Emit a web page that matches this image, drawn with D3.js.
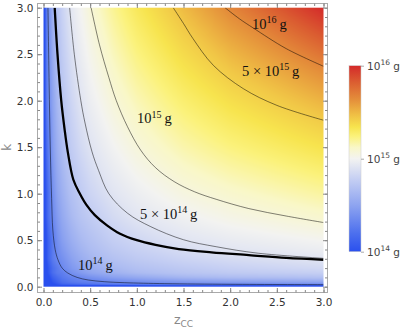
<!DOCTYPE html>
<html>
<head>
<meta charset="utf-8">
<script src="https://cdn.jsdelivr.net/npm/d3@7"></script>
<style>
  body { margin: 0; background: #fff; }
  svg { display: block; }
</style>
</head>
<body>
<svg width="400" height="330"></svg>
<script>
// grid of log10(M / 1e14 g) (rows: k, columns: z_CC)
const zGrid = [0, 0.025, 0.05, 0.1, 0.15, 0.2, 0.3, 0.4, 0.5, 0.75, 1, 1.5, 2, 3];
const kGrid = [0, 0.025, 0.05, 0.1, 0.15, 0.2, 0.3, 0.4, 0.5, 0.75, 1, 1.5, 2, 3];
const logMass = [
    [-1, -1, -1, -1, -1, -1, -1, -1, -1, -1, -1, -1, -1, -1],
    [-1, -0.9, -0.7, -0.5, -0.4, -0.3, -0.25, -0.2, -0.17, -0.1, -0.07, -0.03, -0.02, 0.0],
    [-1, -0.8, -0.6, -0.4, -0.3, -0.2, -0.12, -0.08, -0.06, 0.0, 0.04, 0.1, 0.14, 0.19],
    [-1, -0.7, -0.5, -0.3, -0.2, -0.12, -0.04, 0.01, 0.06, 0.15, 0.21, 0.3, 0.35, 0.39],
    [-1, -0.6, -0.4, -0.2, -0.1, -0.08, 0.05, 0.12, 0.18, 0.27, 0.34, 0.42, 0.47, 0.52],
    [-1, -0.6, -0.4, -0.2, -0.1, 0.0, 0.10, 0.17, 0.23, 0.32, 0.39, 0.47, 0.53, 0.60],
    [-1, -0.5, -0.3, -0.1, 0.0, 0.05, 0.16, 0.24, 0.30, 0.40, 0.47, 0.56, 0.62, 0.70],
    [-1, -0.5, -0.3, -0.1, 0.02, 0.10, 0.21, 0.29, 0.35, 0.46, 0.53, 0.63, 0.70, 0.79],
    [-1, -0.5, -0.3, -0.1, 0.05, 0.14, 0.25, 0.33, 0.39, 0.51, 0.58, 0.69, 0.76, 0.86],
    [-1, -0.4, -0.2, 0.0, 0.12, 0.21, 0.33, 0.42, 0.48, 0.61, 0.70, 0.82, 0.91, 1.04],
    [-1, -0.4, -0.2, 0.05, 0.18, 0.26, 0.39, 0.48, 0.56, 0.69, 0.79, 0.94, 1.04, 1.20],
    [-1, -0.3, -0.1, 0.13, 0.26, 0.35, 0.49, 0.60, 0.68, 0.84, 0.97, 1.16, 1.30, 1.51],
    [-1, -0.2, 0.0, 0.18, 0.32, 0.42, 0.57, 0.69, 0.79, 0.98, 1.13, 1.36, 1.54, 1.81],
    [-1, -0.2, 0.03, 0.27, 0.42, 0.54, 0.72, 0.86, 0.99, 1.24, 1.45, 1.77, 2.03, 2.42]
];

// contour lines [z, k]
const contour1e14 = [[0.048, 3], [0.06, 2.2], [0.073, 1.47], [0.087, 0.95], [0.10, 0.61], [0.125, 0.4], [0.155, 0.29], [0.2, 0.2], [0.26, 0.147], [0.36, 0.1], [0.48, 0.072], [0.65, 0.054], [0.87, 0.043], [1.3, 0.033], [2, 0.026], [3, 0.022]];
const contour5e14 = [[0.28, 3], [0.33, 2.5], [0.4, 2.0], [0.445, 1.76], [0.52, 1.45], [0.59, 1.25], [0.7, 1.0], [0.9, 0.79], [1.15, 0.645], [1.5, 0.505], [1.85, 0.43], [2.3, 0.36], [3, 0.305]];
const contour1e15 = [[0.51, 3], [0.6, 2.6], [0.7, 2.25], [0.78, 2.0], [0.9, 1.72], [1.04, 1.47], [1.2, 1.28], [1.4, 1.13], [1.62, 1.02], [1.85, 0.94], [2.2, 0.84], [2.6, 0.76], [3, 0.69]];
const contour5e15 = [[1.39, 3], [1.5, 2.83], [1.6, 2.67], [1.82, 2.38], [2.14, 2.13], [2.5, 1.95], [3, 1.79]];
const contour1e16 = [[1.945, 3], [2.1, 2.88], [2.25, 2.78], [2.6, 2.56], [3, 2.37]];
const boundary = [[0.12, 3], [0.15, 2.5], [0.19, 2.0], [0.225, 1.7], [0.26, 1.45], [0.32, 1.15], [0.39, 1.0], [0.46, 0.88], [0.55, 0.77], [0.68, 0.66], [0.82, 0.57], [1.0, 0.5], [1.2, 0.45], [1.45, 0.405], [1.8, 0.37], [2.2, 0.34], [2.6, 0.31], [3, 0.29]];

const contourLabels = [
    { pre: "", exp: "16", z: 2.234, k: 2.771 },
    { pre: "5 \u00d7 ", exp: "15", z: 2.127, k: 2.266 },
    { pre: "", exp: "15", z: 1.002, k: 1.760 },
    { pre: "5 \u00d7 ", exp: "14", z: 1.034, k: 0.728 },
    { pre: "", exp: "14", z: 0.370, k: 0.180 }
];

const xTicks = [0, 0.5, 1, 1.5, 2, 2.5, 3];
const yTicks = [0, 0.5, 1, 1.5, 2, 2.5, 3];
const legendTicks = [0, 1, 2]; // log10(M / 1e14 g)
const legendExp = ["14", "15", "16"];

// colour ramp, 0 = bottom of the bar, 1 = top
const rampStops = [0, 0.1, 0.25, 0.4, 0.5, 0.56, 0.62, 0.67, 0.74, 0.82, 0.91, 1];
const rampColors = ["#2a50ee", "#4d70ee", "#8ea4f0", "#c9d2f3", "#f3f3f1", "#f9f7c8",
    "#fbf27c", "#f7e44e", "#efbd44", "#e48d3a", "#db5e31", "#d42a2a"];
const ramp = d3.scaleLinear().domain(rampStops).range(rampColors).clamp(true);
// where the field values fall on the ramp
const fieldScale = d3.scaleLinear()
    .domain([-0.45, 0, 0.35, 0.7, 1.0, 1.35, 1.7, 2.0, 2.42])
    .range([0, 0.17, 0.33, 0.46, 0.54, 0.63, 0.72, 0.82, 1])
    .clamp(true);

const svg = d3.select("svg");
const x = d3.scaleLinear().domain([0, 3]).range([43.5, 323.5]);
const y = d3.scaleLinear().domain([0, 3]).range([286.7, 7.7]);

// density image
const zIdx = d3.scaleLinear().domain(zGrid).range(d3.range(zGrid.length)).clamp(true);
const kIdx = d3.scaleLinear().domain(kGrid).range(d3.range(kGrid.length)).clamp(true);
function lookup(z, k) {
    const zi = zIdx(z), ki = kIdx(k);
    const i = Math.min(Math.floor(zi), zGrid.length - 2), j = Math.min(Math.floor(ki), kGrid.length - 2);
    const fz = zi - i, fk = ki - j;
    const a = logMass[j][i] * (1 - fz) + logMass[j][i + 1] * fz;
    const b = logMass[j + 1][i] * (1 - fz) + logMass[j + 1][i + 1] * fz;
    return a * (1 - fk) + b * fk;
}
const x0 = x(0), x1 = x(3), y0 = y(3), y1 = y(0);
const W = Math.round(x1 - x0), H = Math.round(y1 - y0);
const canvas = document.createElement("canvas");
canvas.width = W;
canvas.height = H;
const ctx = canvas.getContext("2d");
const img = ctx.createImageData(W, H);
for (let py = 0; py < H; py++) {
    for (let px = 0; px < W; px++) {
        const v = lookup(x.invert(x0 + px + 0.5), y.invert(y0 + py + 0.5));
        const c = d3.rgb(ramp(fieldScale(v)));
        const o = (py * W + px) * 4;
        img.data[o] = c.r; img.data[o + 1] = c.g; img.data[o + 2] = c.b; img.data[o + 3] = 255;
    }
}
ctx.putImageData(img, 0, 0);
svg.append("image")
    .attr("x", x0).attr("y", y0)
    .attr("width", W).attr("height", H)
    .attr("preserveAspectRatio", "none")
    .attr("href", canvas.toDataURL());

svg.append("clipPath").attr("id", "plotClip")
    .append("rect").attr("x", x0).attr("y", y0).attr("width", W).attr("height", H);

const line = d3.line().x(d => x(d[0])).y(d => y(d[1])).curve(d3.curveCatmullRom.alpha(0.5));
const lines = svg.append("g").attr("clip-path", "url(#plotClip)").attr("fill", "none");
[contour1e14, contour5e14, contour1e15, contour5e15, contour1e16].forEach(c => {
    lines.append("path").attr("d", line(c))
        .attr("stroke", "#000").attr("stroke-opacity", 0.55).attr("stroke-width", 0.9);
});
lines.append("path").attr("d", line(boundary))
    .attr("stroke", "#000").attr("stroke-width", 2.3);

// contour labels
const lab = svg.append("g").attr("font-family", "'Liberation Serif', 'DejaVu Serif', serif")
    .attr("font-size", 14.5).attr("fill", "#111");
contourLabels.forEach(d => {
    const t = lab.append("text").attr("x", x(d.z)).attr("y", y(d.k));
    t.append("tspan").text(d.pre + "10");
    t.append("tspan").attr("dy", -5.5).attr("font-size", 10).text(d.exp);
    t.append("tspan").attr("dy", 5.5).text("\u2009g");
});

// frame and ticks
const frame = { left: 37.5, right: 327.5, top: 3.5, bottom: 292.5 };
svg.append("rect")
    .attr("x", frame.left).attr("y", frame.top)
    .attr("width", frame.right - frame.left).attr("height", frame.bottom - frame.top)
    .attr("fill", "none").attr("stroke", "#aaa");

const minor = d3.range(0, 3.001, 0.1).map(v => Math.round(v * 10) / 10);
function styleAxis(g) {
    g.select(".domain").remove();
    g.selectAll(".tick line").attr("stroke", "#888");
    g.selectAll(".tick text").attr("fill", "#333");
}
const axisFont = "'DejaVu Sans', sans-serif";
svg.append("g").attr("transform", `translate(0,${frame.bottom})`)
    .call(d3.axisBottom(x).tickValues(xTicks).tickFormat(d3.format(".1f")).tickSize(-4.5).tickPadding(6))
    .call(styleAxis).attr("font-family", axisFont).attr("font-size", 10.5);
svg.append("g").attr("transform", `translate(0,${frame.bottom})`)
    .call(d3.axisBottom(x).tickValues(minor).tickFormat("").tickSize(-2.5)).call(styleAxis);
svg.append("g").attr("transform", `translate(0,${frame.top})`)
    .call(d3.axisTop(x).tickValues(xTicks).tickFormat("").tickSize(-4.5)).call(styleAxis);
svg.append("g").attr("transform", `translate(0,${frame.top})`)
    .call(d3.axisTop(x).tickValues(minor).tickFormat("").tickSize(-2.5)).call(styleAxis);
svg.append("g").attr("transform", `translate(${frame.left},0)`)
    .call(d3.axisLeft(y).tickValues(yTicks).tickFormat(d3.format(".1f")).tickSize(-4.5).tickPadding(4))
    .call(styleAxis).attr("font-family", axisFont).attr("font-size", 10.5);
svg.append("g").attr("transform", `translate(${frame.left},0)`)
    .call(d3.axisLeft(y).tickValues(minor).tickFormat("").tickSize(-2.5)).call(styleAxis);
svg.append("g").attr("transform", `translate(${frame.right},0)`)
    .call(d3.axisRight(y).tickValues(yTicks).tickFormat("").tickSize(-4.5)).call(styleAxis);
svg.append("g").attr("transform", `translate(${frame.right},0)`)
    .call(d3.axisRight(y).tickValues(minor).tickFormat("").tickSize(-2.5)).call(styleAxis);

// axis titles
const xt = svg.append("text").attr("x", x(1.5)).attr("y", 324).attr("text-anchor", "middle")
    .attr("font-family", axisFont).attr("font-size", 12.5).attr("fill", "#888");
xt.append("tspan").text("z");
xt.append("tspan").attr("dy", 3).attr("font-size", 9).text("CC");
svg.append("text").attr("transform", `translate(11,${y(1.5)}) rotate(-90)`)
    .attr("text-anchor", "middle").attr("font-family", axisFont)
    .attr("font-size", 12).attr("fill", "#888").text("k");

// colour bar
const ly = d3.scaleLinear().domain([0, 2]).range([251.7, 65.7]);
const grad = svg.append("defs").append("linearGradient").attr("id", "bar")
    .attr("x1", 0).attr("y1", 1).attr("x2", 0).attr("y2", 0);
rampStops.forEach((s, i) => grad.append("stop").attr("offset", s).attr("stop-color", rampColors[i]));
svg.append("rect").attr("x", 349).attr("y", ly(2)).attr("width", 12).attr("height", ly(0) - ly(2))
    .attr("fill", "url(#bar)").attr("stroke", "#ccc").attr("stroke-width", 0.5);
const leg = svg.append("g").attr("transform", "translate(361,0)")
    .call(d3.axisRight(ly).tickValues(legendTicks).tickFormat("").tickSize(3))
    .call(styleAxis);
leg.selectAll(".tick line").attr("stroke", "#aaa");
legendTicks.forEach((v, i) => {
    const t = svg.append("text").attr("x", 367).attr("y", ly(v) + 4)
        .attr("font-family", axisFont).attr("font-size", 10.5).attr("fill", "#444");
    t.append("tspan").text("10");
    t.append("tspan").attr("dy", -4.5).attr("font-size", 7.5).text(legendExp[i]);
    t.append("tspan").attr("dy", 4.5).text(" g");
});
</script>
</body>
</html>
